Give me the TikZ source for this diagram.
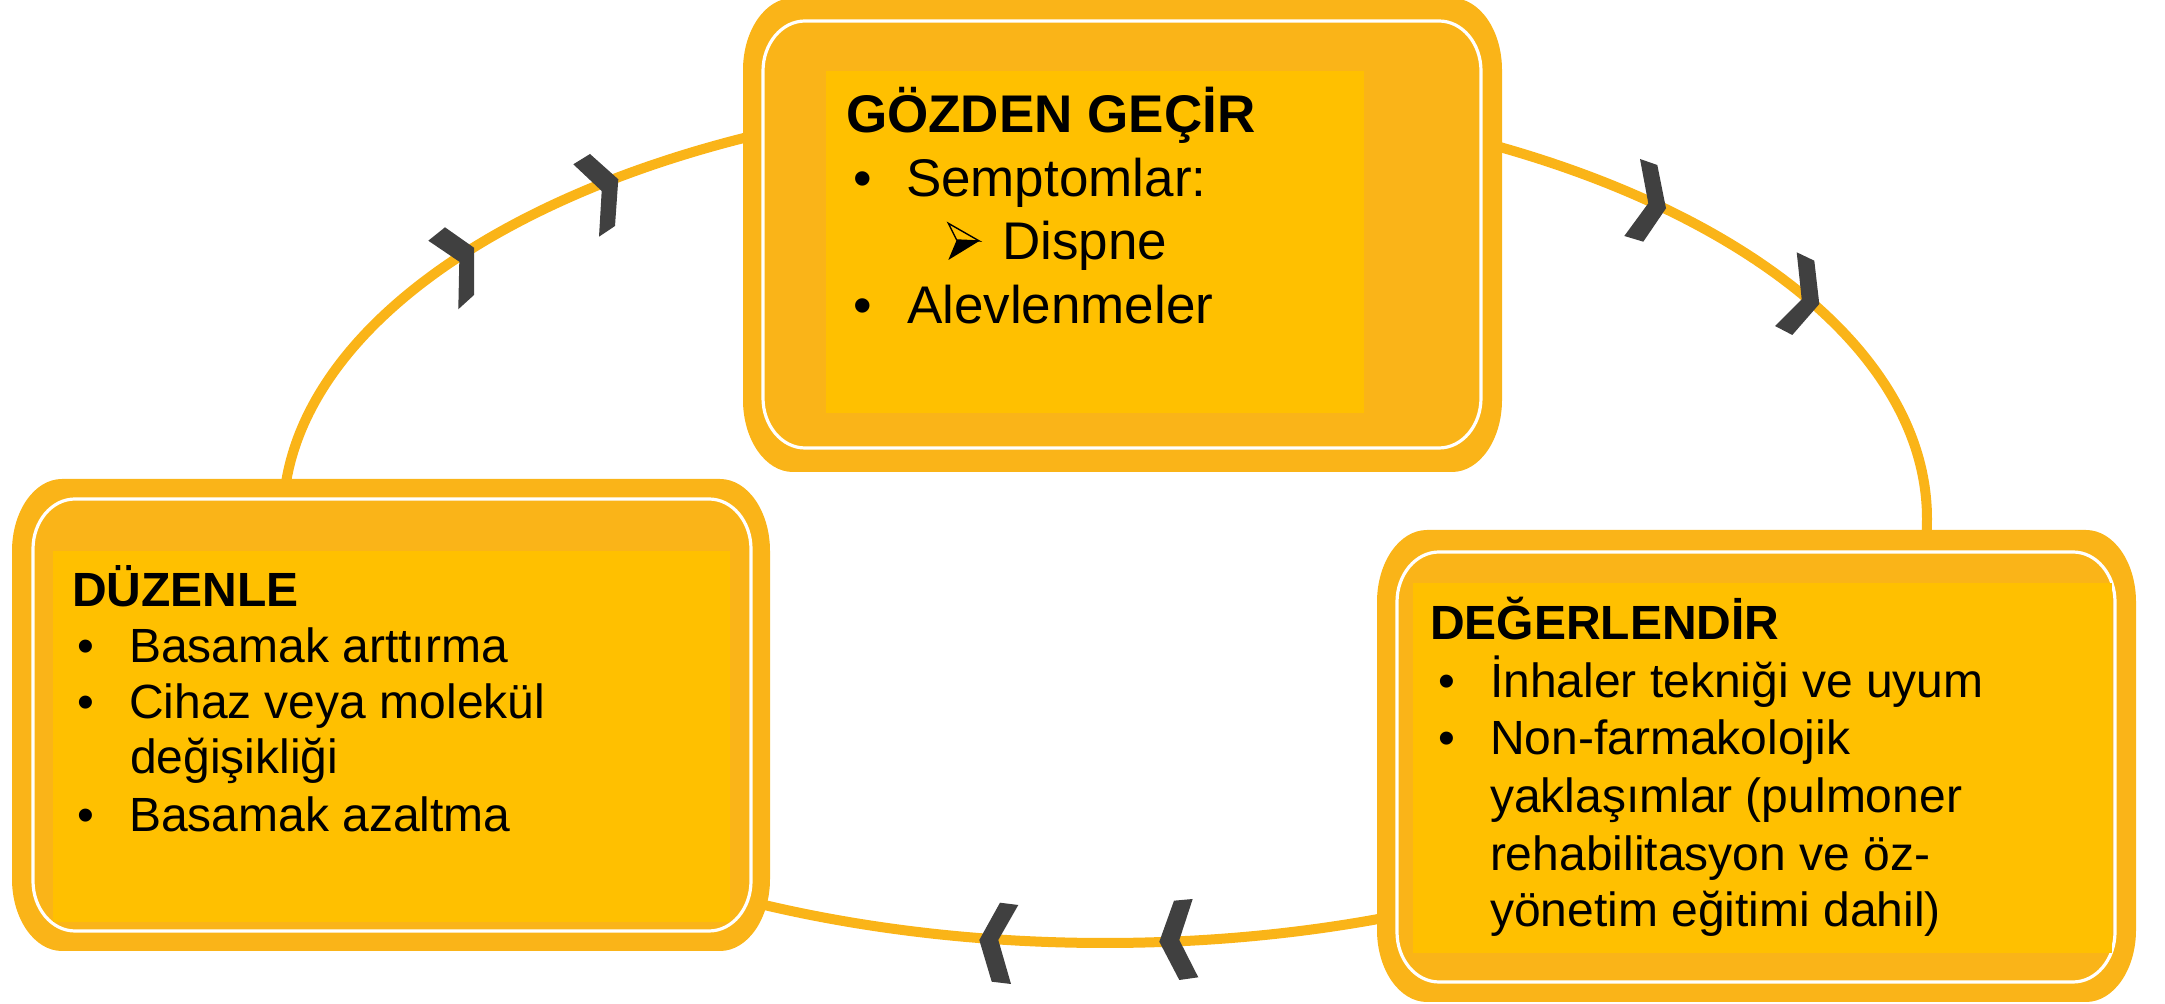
\documentclass[tikz,border=0pt]{standalone}
\usepackage{fontspec}
\setmainfont{Liberation Sans}
\definecolor{boxorange}{HTML}{FAB418}
\definecolor{gold}{HTML}{FFC000}
\definecolor{chevgray}{HTML}{404040}
\tikzset{
  rr/.style n args={6}{insert path={(#1+#5,#2) -- (#3-#5,#2)
     .. controls (#3-0.448*#5,#2) and (#3,#2+0.448*#6) .. (#3,#2+#6)
     -- (#3,#4-#6)
     .. controls (#3,#4-0.448*#6) and (#3-0.448*#5,#4) .. (#3-#5,#4)
     -- (#1+#5,#4)
     .. controls (#1+0.448*#5,#4) and (#1,#4-0.448*#6) .. (#1,#4-#6)
     -- (#1,#2+#6)
     .. controls (#1,#2+0.448*#6) and (#1+0.448*#5,#2) .. cycle}},
  outerbox/.style={fill=boxorange},
  whiteline/.style={draw=white, line width=1.6pt},
  textrect/.style={fill=gold, draw=none, inner sep=0pt, outer sep=0pt, anchor=north west},
  conn/.style={draw=boxorange, line width=5pt},
  chev/.style={fill=chevgray, draw=none},
  txtA/.style={anchor=base west, inner sep=0pt, outer sep=0pt, font=\fontsize{26.5}{30}\selectfont},
  txtB/.style={anchor=base west, inner sep=0pt, outer sep=0pt, font=\fontsize{24}{28}\selectfont},
}
\begin{document}
\begin{tikzpicture}[x=0.5pt,y=-0.5pt]
\useasboundingbox (0,0) rectangle (2165,1004);
% cycle connector
\draw[conn] (1105,519) ellipse [x radius=822, y radius=424];
% chevrons
\fill[chev] (428.3,240.7) -- (445,227.3) -- (474,247.7) -- (474,295) -- (458.3,309.3) -- (459.3,261.7) -- cycle;
\fill[chev] (573.3,164.3) -- (590,154) -- (618.3,179.3) -- (615,226) -- (599,236.7) -- (601.7,191) -- cycle;
\fill[chev] (1640,159) -- (1657.3,165) -- (1666,208.3) -- (1643.3,241.7) -- (1624.3,236) -- (1648.3,203.3) -- cycle;
\fill[chev] (1796.7,252.3) -- (1814.3,260.7) -- (1819.3,304) -- (1792.3,335) -- (1775,326) -- (1801.7,299.3) -- cycle;
\fill[chev] (979.3,940) -- (1000,902.7) -- (1018.3,905) -- (998.3,940) -- (1011,984) -- (991.7,981.7) -- cycle;
\fill[chev] (1159.3,941.7) -- (1174,900.7) -- (1192.7,899) -- (1179.3,940) -- (1198.3,977.3) -- (1179.3,980) -- cycle;
% top box
\path[outerbox, rr={743}{-2}{1502}{472}{50}{72}];
\path[whiteline, rr={763}{21}{1481}{448}{42}{50}];
\node[textrect, minimum width=269pt, minimum height=171pt] (topr) at (826,71) {};
% left box
\path[outerbox, rr={12}{479}{770}{951}{50}{72}];
\path[whiteline, rr={33}{499}{751}{931}{42}{50}];
\node[textrect, minimum width=338.5pt, minimum height=185.5pt] (leftr) at (53,551) {};
% right box
\path[outerbox, rr={1377}{530}{2136}{1002}{50}{72}];
\path[whiteline, rr={1397}{552}{2115}{982}{42}{50}];
\node[textrect, minimum width=349.5pt, minimum height=185pt] (rightr) at (1413,583) {};
% top texts
\node[txtA, font=\fontsize{26.5}{30}\selectfont\bfseries] (gt) at (846,133) {GÖZDEN GEÇİR};
\node[txtA] (gb1) at (853,197) {•};
\node[txtA] (g1) at (906,197) {Semptomlar:};
\fill[black] (956.7,240) -- (979.3,241) -- (948.3,260) -- cycle;
\draw[black, line width=0.7pt, line join=miter] (948.3,223.3) -- (979.3,241) -- (956.7,240) -- cycle;
\node[txtA] (g2) at (1002,260) {Dispne};
\node[txtA] (gb2) at (853,324) {•};
\node[txtA] (g3) at (907,324) {Alevlenmeler};
% left texts
\node[txtB, font=\fontsize{24}{28}\selectfont\bfseries] (lt) at (72,607) {DÜZENLE};
\node[txtB] (lb1) at (77,663) {•};
\node[txtB] (l1) at (129,663) {Basamak arttırma};
\node[txtB] (lb2) at (77,719) {•};
\node[txtB] (l2) at (129,719) {Cihaz veya molekül};
\node[txtB] (l2b) at (130,774) {değişikliği};
\node[txtB] (lb3) at (77,832) {•};
\node[txtB] (l3) at (129,832) {Basamak azaltma};
% right texts
\node[txtB, font=\fontsize{24}{28}\selectfont\bfseries] (rt) at (1430,640) {DEĞERLENDİR};
\node[txtB] (rb1) at (1438,698) {•};
\node[txtB] (r1) at (1490,698) {İnhaler tekniği ve uyum};
\node[txtB] (rb2) at (1438,755) {•};
\node[txtB] (r2) at (1490,755) {Non-farmakolojik};
\node[txtB] (r2b) at (1490,813) {yaklaşımlar (pulmoner};
\node[txtB] (r2c) at (1490,871) {rehabilitasyon ve öz-};
\node[txtB] (r2d) at (1490,927) {yönetim eğitimi dahil)};
\end{tikzpicture}
\end{document}
